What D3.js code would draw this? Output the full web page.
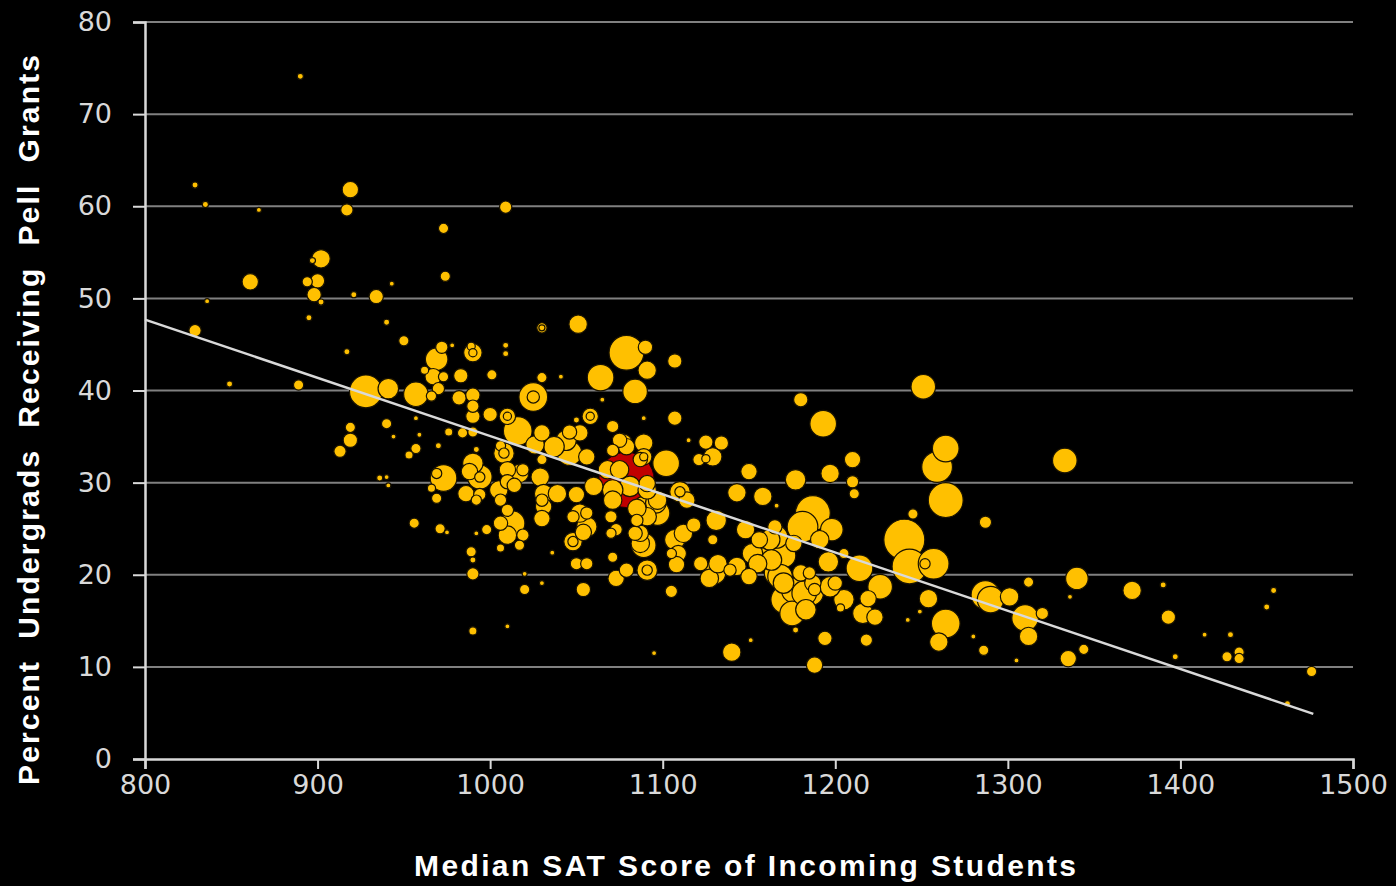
<!DOCTYPE html>
<html>
<head>
<meta charset="utf-8">
<script src="https://cdn.jsdelivr.net/npm/d3@7"></script>
<style>
  html, body { margin: 0; padding: 0; background: #000; }
  svg { display: block; }
</style>
</head>
<body>
<svg id="chart" width="1396" height="886"></svg>
<script>
// Axis ticks
const xTicks = [800, 900, 1000, 1100, 1200, 1300, 1400, 1500];
const yTicks = [0, 10, 20, 30, 40, 50, 60, 70, 80];

// Colleges: [median SAT, % undergrads with Pell grants, undergrad enrollment (hundreds)]
const colleges = [
  [890,74.1,9],[829,62.3,9],[835,60.2,9],[866,59.6,6],[919,61.8,64],[917,59.6,36],[1009,59.9,36],[973,57.6,25],
  [902,54.3,81],[897,54.1,9],[861,51.8,64],[894,51.8,25],[900,51.9,49],[898,50.4,49],[902,49.6,9],[921,50.4,9],
  [934,50.2,49],[943,51.6,6],[974,52.4,25],[836,49.7,6],[895,47.9,9],[829,46.5,36],[849,40.7,9],[889,40.6,25],
  [928,39.9,256],[941,40.2,100],[957,39.6,144],[966,39.4,25],[917,44.2,9],[940,47.4,9],[950,45.4,25],[972,44.7,36],
  [969,43.4,121],[962,42.2,16],[967,41.5,64],[990,44.1,81],[989,44.8,16],[1009,44.9,9],[1009,44.0,9],[978,44.9,6],
  [1030,46.8,25],[1051,47.2,81],[1079,44.1,289],[1090,44.7,49],[1107,43.2,49],[1091,42.2,81],[1064,41.4,169],[1084,39.9,144],
  [1041,41.5,6],[1030,41.4,25],[1025,39.3,196],[1001,41.7,25],[983,41.6,49],[973,41.5,25],[970,40.2,36],[982,39.2,49],
  [990,39.5,49],[990,38.3,36],[990,37.2,49],[1000,37.4,49],[1010,37.2,64],[1016,35.6,196],[940,36.4,25],[959,35.2,6],
  [944,35.0,6],[957,33.7,25],[953,33.0,16],[970,34.0,9],[976,35.5,16],[984,35.4,25],[992,33.6,9],[1008,33.2,100],
  [1030,35.4,64],[1030,32.5,25],[1044,34.6,100],[1052,35.4,64],[1058,37.2,64],[1050,36.8,9],[1071,36.1,36],[1089,37.0,6],
  [1107,37.0,49],[1077,34.3,81],[1089,34.3,81],[1089,32.8,64],[1102,32.1,169],[1046,33.2,144],[1056,32.8,64],[1037,33.9,100],
  [1026,34.1,81],[1010,31.4,64],[1017,31.0,81],[994,30.6,144],[988,31.2,64],[973,30.5,169],[969,31.0,25],[966,29.4,16],
  [969,28.3,25],[940,30.6,6],[941,29.7,6],[936,30.5,9],[1005,29.2,81],[1010,30.1,49],[1014,29.7,49],[1029,30.6,81],
  [1031,28.8,81],[1030,28.1,36],[1039,28.8,81],[1031,27.4,64],[1030,26.1,64],[1019,31.4,36],[1006,28.1,36],[1010,27.0,36],
  [1013,25.6,144],[1010,24.3,81],[1019,24.3,36],[1017,23.2,25],[1006,22.9,16],[998,24.9,25],[992,24.5,6],[992,28.1,25],
  [986,28.8,64],[989,22.5,25],[990,20.1,36],[971,25.0,25],[956,25.6,25],[975,24.6,6],[1020,20.1,6],[1030,19.1,6],
  [1020,18.4,25],[1036,22.4,6],[1048,23.6,81],[1054,24.6,64],[1052,26.7,81],[1060,29.6,81],[1050,21.2,36],[1056,21.2,36],
  [1054,18.4,49],[1070,26.3,36],[1070,24.5,25],[1071,21.9,25],[1073,19.6,64],[1091,20.5,100],[1079,20.5,49],[1081,29.6,100],
  [1089,27.4,100],[1097,26.7,144],[1087,24.5,64],[1087,23.4,81],[1105,22.3,25],[1105,18.2,36],[1097,28.1,81],[1071,28.1,81],
  [1046,35.5,49],[1065,39.0,6],[1115,34.6,6],[1125,34.4,49],[1134,34.3,49],[1129,32.8,81],[1125,32.6,16],[1121,32.5,36],
  [1180,39.0,49],[1193,36.4,169],[1210,32.5,64],[1210,30.1,36],[1211,28.8,25],[1079,33.9,64],[1075,34.6,49],[1087,32.5,49],
  [1150,31.2,64],[1177,30.3,100],[1197,31.0,81],[1143,28.9,81],[1158,28.5,81],[1166,27.5,6],[1110,29.0,100],[1114,28.1,64],
  [1096,27.8,100],[1091,26.3,81],[1085,25.9,36],[1084,24.5,49],[1089,23.2,144],[1073,24.9,36],[1056,26.7,36],[1118,25.4,49],
  [1131,25.9,100],[1129,23.8,25],[1107,23.8,100],[1112,24.5,81],[1109,22.3,64],[1108,21.1,64],[1122,21.2,49],[1130,20.2,121],
  [1127,19.6,81],[1143,20.9,81],[1148,24.9,81],[1156,23.8,64],[1152,22.3,100],[1155,21.2,81],[1164,22.3,144],[1166,20.2,144],
  [1187,26.7,289],[1181,25.2,225],[1198,24.9,121],[1191,23.8,81],[1176,23.4,64],[1170,22.1,144],[1168,19.8,144],[1176,18.3,144],
  [1180,20.2,64],[1196,21.4,100],[1205,22.3,25],[1214,20.7,169],[1150,19.8,64],[1139,20.5,36],[1251,40.4,144],[1264,33.7,169],
  [1259,31.7,225],[1264,28.1,289],[1245,26.6,25],[1287,25.7,36],[1165,25.2,49],[1162,23.8,100],[1240,23.8,400],[1243,20.9,289],
  [1257,21.2,225],[1252,21.2,25],[1226,18.7,144],[1219,17.4,64],[1223,15.4,64],[1218,12.9,36],[1200,19.1,49],[1205,17.3,100],
  [1203,16.4,16],[1186,18.0,144],[1171,17.3,196],[1175,15.8,144],[1170,19.1,100],[1185,20.2,36],[1188,18.4,36],[1177,14.0,9],
  [1194,13.1,49],[1188,10.2,64],[1254,17.4,81],[1264,14.7,196],[1260,12.7,81],[1242,15.1,6],[1249,16.0,6],[1287,17.8,196],
  [1290,17.3,169],[1301,17.6,81],[1312,19.2,25],[1320,15.8,36],[1310,15.3,169],[1312,13.3,81],[1280,13.3,6],[1286,11.8,25],
  [1305,10.7,6],[1333,32.4,144],[1340,19.6,121],[1336,17.6,6],[1335,10.9,64],[1344,11.9,25],[1372,18.3,81],[1390,18.9,9],
  [1393,15.4,49],[1397,11.1,9],[1414,13.5,6],[1429,13.5,9],[1427,11.1,25],[1434,11.6,25],[1434,10.9,25],[1450,16.5,9],
  [1454,18.3,9],[1462,6.0,9],[1476,9.5,25],[919,36.0,25],[919,34.6,49],[913,33.4,36],[957,37.0,6],[990,35.5,25],
  [990,32.1,100],[990,21.6,9],[990,13.9,16],[1010,14.4,6],[1140,11.6,81],[1095,11.5,6],[1151,12.9,6],[1216,15.8,100],
  [1182,18.0,144],[1187,19.1,64],[1183,16.2,100],[1197,18.7,100],[1166,24.1,121],[1163,21.6,100],[1132,21.2,81],[1091,29.2,81],
  [1068,31.4,81],[1075,31.4,81],[1071,29.2,100],[1091,29.9,64],[1050,28.7,64],[1048,26.3,36],[1056,25.2,100],[1085,27.2,81],
  [1071,33.5,36],[994,28.7,36],[1006,34.0,25],[1006,25.6,49],
  [1025,39.3,36],[1008,33.2,25],[994,30.6,25],[1048,23.6,25],[1091,20.5,25],[1110,29.0,25],[1030,46.8,9],[1010,37.2,16],
  [1058,37.2,16],[1089,32.8,16],[990,44.1,16]
];

// Highlighted college (drawn in red)
const highlight = [[1079, 30.3, 729]];

// Linear trend line end points [SAT, %]
const trendLine = [[800, 47.7], [1477, 4.9]];

const W = 1396, H = 886;
const svg = d3.select('#chart');
svg.append('rect').attr('width', W).attr('height', H).attr('fill', '#000');

const x = d3.scaleLinear().domain([800, 1500]).range([145, 1353]);
const y = d3.scaleLinear().domain([0, 80]).range([759, 22]);
const r = d3.scaleSqrt().domain([0, 400]).range([0, 20.5]);

// Horizontal gridlines
svg.append('g')
  .selectAll('line')
  .data(yTicks.filter(v => v > 0))
  .join('line')
  .attr('x1', x(800)).attr('x2', x(1500))
  .attr('y1', d => y(d)).attr('y2', d => y(d))
  .attr('stroke', '#808080').attr('stroke-width', 2);

// Y axis
const yAxis = svg.append('g')
  .attr('transform', `translate(${x(800)},0)`)
  .call(d3.axisLeft(y).tickValues(yTicks).tickSize(12).tickPadding(21).tickFormat(d3.format('d')));
// X axis
const xAxis = svg.append('g')
  .attr('transform', `translate(0,${y(0)})`)
  .call(d3.axisBottom(x).tickValues(xTicks).tickSize(10).tickPadding(6).tickFormat(d3.format('d')));

[yAxis, xAxis].forEach(g => {
  g.select('.domain').attr('stroke', '#d9d9d9').attr('stroke-width', 2.5);
  g.selectAll('.tick line').attr('stroke', '#d9d9d9').attr('stroke-width', 2);
  g.selectAll('.tick text')
    .attr('fill', '#d9d9d9')
    .attr('font-family', 'DejaVu Sans, Arial, sans-serif')
    .attr('font-size', 27);
});

// Bubbles: highlighted one underneath, then the rest largest first
const bubbles = svg.append('g');
bubbles.selectAll('circle.hl')
  .data(highlight)
  .join('circle')
  .attr('class', 'hl')
  .attr('cx', d => x(d[0])).attr('cy', d => y(d[1])).attr('r', d => r(d[2]))
  .attr('fill', '#C00000').attr('stroke', '#1a0000').attr('stroke-width', 1);

bubbles.selectAll('circle.col')
  .data(colleges.slice().sort((a, b) => b[2] - a[2]))
  .join('circle')
  .attr('class', 'col')
  .attr('cx', d => x(d[0])).attr('cy', d => y(d[1])).attr('r', d => r(d[2]))
  .attr('fill', '#FFC000').attr('stroke', '#1a1300').attr('stroke-width', 1.2);

// Trend line
svg.append('path')
  .datum(trendLine)
  .attr('d', d3.line().x(d => x(d[0])).y(d => y(d[1])))
  .attr('fill', 'none').attr('stroke', '#d9d9d9').attr('stroke-width', 2.5);

// Axis titles
svg.append('text')
  .attr('x', 745).attr('y', 876)
  .attr('text-anchor', 'middle')
  .attr('fill', '#fff')
  .attr('font-family', 'Liberation Sans, Arial, sans-serif')
  .attr('font-weight', 'bold').attr('font-size', 30)
  .attr('textLength', 662).attr('lengthAdjust', 'spacing')
  .text('Median SAT Score of Incoming Students');

svg.append('text')
  .attr('transform', 'translate(39,420) rotate(-90)')
  .attr('text-anchor', 'middle')
  .attr('fill', '#fff')
  .attr('font-family', 'Liberation Sans, Arial, sans-serif')
  .attr('font-weight', 'bold').attr('font-size', 30)
  .attr('textLength', 730).attr('lengthAdjust', 'spacing')
  .style('white-space', 'pre')
  .text('Percent  Undergrads  Receiving  Pell  Grants');
</script>
</body>
</html>
